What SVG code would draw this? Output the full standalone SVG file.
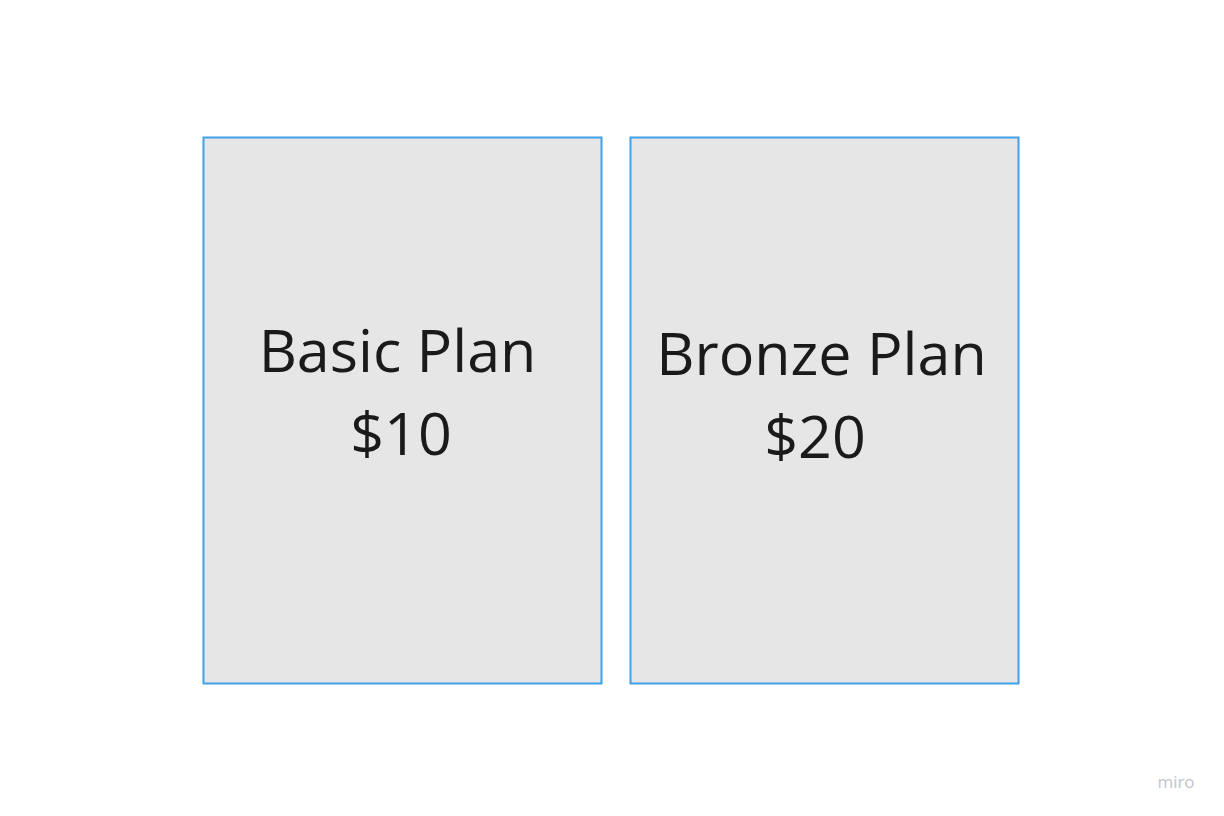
<svg xmlns="http://www.w3.org/2000/svg" width="1224" height="816" viewBox="0 0 1224 816">
<style>
.box{fill:#e6e6e6;stroke:#42a0ea;stroke-width:2}
.t{font-family:"Open Sans","Noto Sans",sans-serif;font-size:59.2px;fill:#1a1a1a;text-anchor:middle}
.wm{font-family:"Open Sans","Noto Sans",sans-serif;font-size:17px;fill:#c4c4c8;text-anchor:middle}
</style>
<rect width="1224" height="816" fill="#ffffff"/>
<g id="basic">
<rect class="box" x="203.5" y="137.5" width="398" height="546"/>
<text class="t" x="397.5" y="372">Basic Plan</text>
<text class="t" x="401" y="455">$10</text>
</g>
<g id="bronze">
<rect class="box" x="630.5" y="137.5" width="388" height="546"/>
<text class="t" x="821.5" y="375">Bronze Plan</text>
<text class="t" x="815" y="458">$20</text>
</g>
<g id="connectors"/>
<text class="wm" x="1176" y="788">miro</text>
</svg>
